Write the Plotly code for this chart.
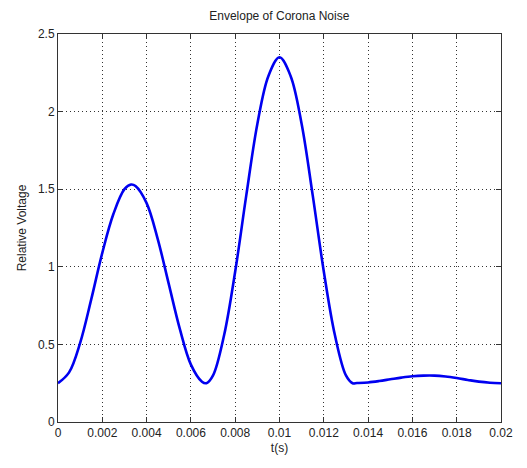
import plotly.graph_objects as go

# time (s)
t = [0.0, 0.0005, 0.001, 0.0015, 0.002, 0.0025, 0.003, 0.0033, 0.0035, 0.004,
     0.0045, 0.005, 0.0055, 0.006, 0.0065, 0.0067, 0.007, 0.0075, 0.008, 0.0085,
     0.009, 0.0095, 0.010, 0.0105, 0.011, 0.0115, 0.012, 0.0125, 0.013, 0.0133,
     0.0135, 0.014, 0.0145, 0.015, 0.0155, 0.016, 0.0165, 0.017, 0.0175, 0.018,
     0.0185, 0.019, 0.0195, 0.020]
# relative voltage
v = [0.25, 0.32, 0.51, 0.79, 1.09, 1.34, 1.50, 1.53, 1.52, 1.41,
     1.18, 0.89, 0.60, 0.37, 0.26, 0.25, 0.30, 0.56, 0.97, 1.46,
     1.92, 2.23, 2.35, 2.23, 1.92, 1.46, 0.97, 0.56, 0.30, 0.25,
     0.251, 0.255, 0.264, 0.275, 0.286, 0.295, 0.299, 0.299, 0.293, 0.283,
     0.271, 0.260, 0.253, 0.25]

x_ticks = [0, 0.002, 0.004, 0.006, 0.008, 0.01, 0.012, 0.014, 0.016, 0.018, 0.02]
x_labels = ["0", "0.002", "0.004", "0.006", "0.008", "0.01", "0.012", "0.014", "0.016", "0.018", "0.02"]
y_ticks = [0, 0.5, 1, 1.5, 2, 2.5]
y_labels = ["0", "0.5", "1", "1.5", "2", "2.5"]

font = "Arial, Liberation Sans, sans-serif"

fig = go.Figure()
fig.add_trace(go.Scatter(x=t, y=v, mode="lines",
                         line=dict(color="#0000f0", width=2.6, shape="spline", smoothing=1.0),
                         showlegend=False, hoverinfo="skip"))

axis_common = dict(
    showline=True, linecolor="#333333", linewidth=1, mirror="ticks",
    ticks="inside", ticklen=5, tickcolor="#333333",
    showgrid=True, gridcolor="#333333", gridwidth=1, griddash="1px,3px",
    zeroline=False,
    tickfont=dict(family=font, size=12, color="#222222"),
)

fig.update_xaxes(range=[0, 0.02], tickvals=x_ticks, ticktext=x_labels,
                 title=dict(text="t(s)", font=dict(family=font, size=12, color="#222222"), standoff=4),
                 **axis_common)
fig.update_yaxes(range=[0, 2.5], tickvals=y_ticks, ticktext=y_labels,
                 title=dict(text="Relative Voltage", font=dict(family=font, size=12, color="#222222"), standoff=8),
                 **axis_common)

fig.update_layout(
    width=527, height=468,
    margin=dict(l=58, r=26, t=34, b=46),
    paper_bgcolor="white", plot_bgcolor="white",
    title=dict(text="Envelope of Corona Noise", x=0.53, xanchor="center", y=0.975, yanchor="top",
               font=dict(family=font, size=12, color="#222222")),
)

fig.write_html("out.html")
